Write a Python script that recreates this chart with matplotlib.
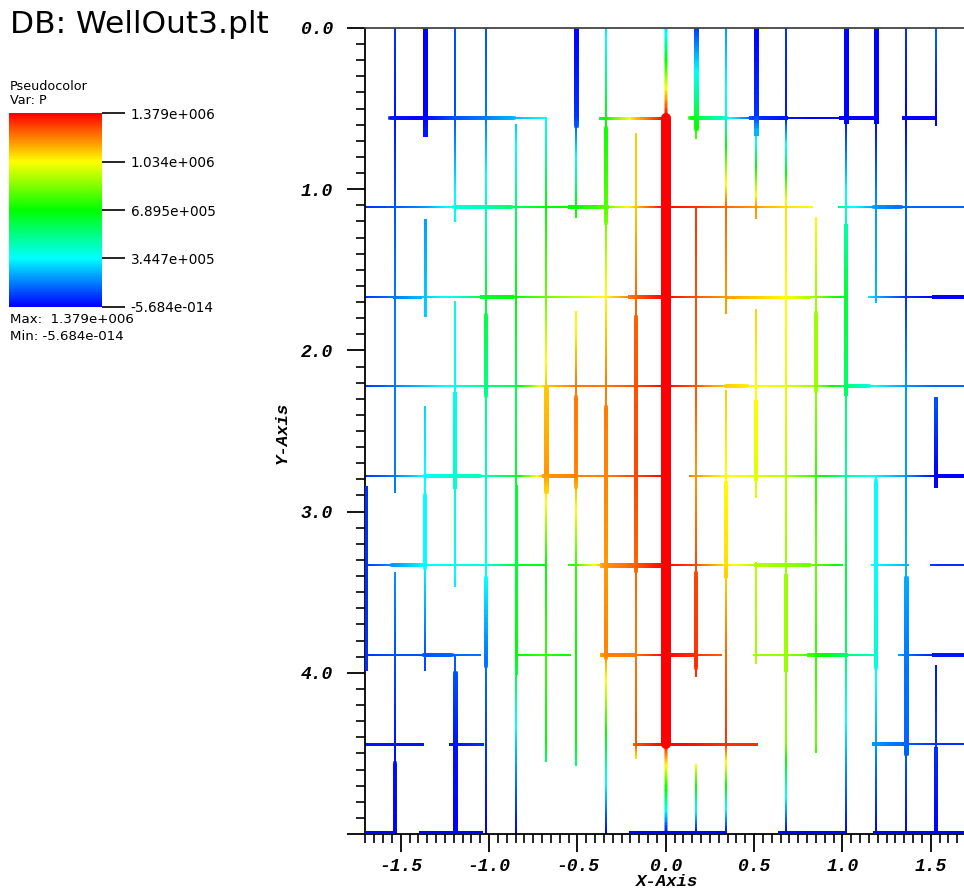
import numpy as np
import matplotlib
matplotlib.use('Agg')
import matplotlib.pyplot as plt
from matplotlib.collections import LineCollection
from matplotlib.colors import LinearSegmentedColormap, Normalize
from matplotlib.cm import ScalarMappable
from matplotlib.ticker import FixedLocator, MultipleLocator

P_MAX = 1.379e6
P_MIN = -5.684e-14

# fracture grid: 21 columns in x, 10 rows in y
X_NODES = np.linspace(-1.7, 1.7, 21)
Y_NODES = np.linspace(0.0, 5.0, 10)

# pressure at the grid nodes, in percent of P_MAX (rows = Y_NODES, cols = X_NODES)
P_PCT = [
    [0, 5, 0, 8, 8, 0, 0, 0, 22, 0, 20, 5, 15, 0, 5, 0, 0, 0, 5, 10, 10],
    [2, 2, 0, 8, 12, 18, 25, 5, 50, 80, 100, 45, 30, 5, 2, 0, 0, 0, 0, 0, 0],
    [5, 8, 15, 28, 32, 40, 50, 50, 58, 80, 100, 95, 90, 85, 78, 75, 30, 15, 10, 10, 10],
    [5, 12, 20, 28, 45, 50, 60, 68, 75, 90, 100, 92, 85, 80, 75, 65, 45, 18, 5, 0, 0],
    [5, 12, 20, 27, 38, 42, 80, 88, 88, 92, 100, 92, 80, 75, 72, 65, 40, 25, 15, 10, 10],
    [5, 12, 25, 30, 32, 45, 85, 87, 87, 93, 100, 85, 75, 72, 68, 55, 35, 25, 15, 0, 0],
    [5, 15, 25, 27, 28, 45, 50, 55, 85, 90, 100, 93, 78, 68, 65, 60, 45, 25, 18, 5, 5],
    [5, 8, 8, 10, 12, 50, 55, 50, 87, 88, 100, 95, 90, 65, 65, 55, 40, 30, 12, 2, 2],
    [2, 2, 2, 2, 5, 20, 50, 50, 45, 92, 100, 98, 95, 95, 62, 60, 20, 15, 10, 5, 5],
    [0, 0, 0, 0, 0, 0, 0, 0, 0, 0, 0, 0, 0, 0, 0, 0, 0, 0, 0, 0, 0],
]

# horizontal fractures: (row, x start, x end)
H_FRAC = [
    (1, -1.56, -0.68), (1, -1.56, -0.86), (1, -0.37, 0.00), (1, 0.14, 1.19),
    (1, 0.14, 0.34), (1, 0.48, 0.68), (1, 0.99, 1.19), (1, 1.35, 1.52),
    (2, -1.70, 0.83), (2, -1.20, -0.87), (2, -0.54, -0.33), (2, 0.98, 1.70),
    (2, 1.18, 1.33),
    (3, -1.70, 1.01), (3, -1.54, -1.39), (3, -1.04, -0.87), (3, -0.20, -0.04),
    (3, 0.34, 0.81), (3, 1.15, 1.70), (3, 1.52, 1.70),
    (4, -1.70, 1.70), (4, 0.34, 0.46), (4, 1.03, 1.15),
    (5, -1.70, 0.00), (5, -1.36, -1.05), (5, -0.69, -0.51), (5, 0.14, 1.70),
    (5, 1.53, 1.70),
    (6, -1.70, -0.68), (6, -1.55, -1.38), (6, -0.55, 1.00), (6, -0.36, -0.04),
    (6, 0.51, 0.81), (6, 1.17, 1.37), (6, 1.50, 1.70),
    (7, -1.70, -1.05), (7, -1.37, -1.21), (7, -0.85, -0.54), (7, -0.36, 0.31),
    (7, -0.36, -0.18), (7, 0.00, 0.15), (7, 0.50, 1.19), (7, 0.81, 1.02),
    (7, 1.32, 1.70), (7, 1.52, 1.70),
    (8, -1.70, -1.38), (8, -1.22, -1.04), (8, -0.18, 0.51), (8, 1.18, 1.70),
    (8, 1.18, 1.36),
    (9, -1.70, -1.55), (9, -1.38, -1.05), (9, -0.19, 0.32), (9, 0.65, 1.00),
    (9, 1.19, 1.70),
]
# drawn width of each horizontal fracture (pixels)
H_LW = [
    2, 3.5, 3, 2, 3.5, 4, 4, 4,
    2, 3.5, 4, 2, 3.5,
    2, 3, 4, 4, 3, 2, 4,
    2, 3.5, 3.5,
    2, 3.5, 4, 2, 4,
    2, 3.5, 2, 5, 4, 2, 2,
    2, 3.5, 2, 2, 4, 4, 2, 4, 2, 4,
    3, 3, 3, 2, 4,
    6, 6, 6, 7, 6,
]

# vertical fractures: (column, y start, y end)
V_FRAC = [
    (0, 2.86, 3.97),
    (1, 0.00, 2.88), (1, 3.38, 5.00), (1, 4.56, 5.00),
    (2, 0.00, 0.66), (2, 1.19, 1.78), (2, 2.35, 3.98), (2, 2.90, 3.35),
    (3, 0.00, 1.20), (3, 1.70, 3.46), (3, 2.27, 2.85), (3, 3.89, 5.00), (3, 4.00, 5.00),
    (4, 0.00, 5.00), (4, 1.78, 2.28), (4, 3.41, 3.96),
    (5, 0.60, 5.00), (5, 2.84, 4.00),
    (6, 0.56, 4.55), (6, 2.23, 2.87),
    (7, 0.00, 1.17), (7, 0.00, 0.60), (7, 1.76, 4.57), (7, 2.29, 2.85),
    (8, 0.00, 5.00), (8, 0.62, 1.21), (8, 2.35, 3.91),
    (9, 0.66, 4.53), (9, 1.79, 3.37),
    (10, 0.00, 0.56), (10, 0.56, 4.44), (10, 4.44, 5.00),
    (11, 0.00, 0.68), (11, 0.00, 0.62), (11, 1.11, 4.02), (11, 3.38, 3.97), (11, 4.57, 5.00),
    (12, 0.00, 1.77), (12, 2.25, 5.00), (12, 2.82, 3.40),
    (13, 0.00, 1.18), (13, 0.00, 0.65), (13, 1.75, 2.91), (13, 2.32, 2.80), (13, 3.32, 3.94),
    (14, 0.00, 5.00), (14, 3.40, 3.98),
    (15, 1.18, 4.49), (15, 1.77, 2.25),
    (16, 0.00, 5.00), (16, 0.00, 0.58), (16, 1.23, 2.27),
    (17, 0.00, 1.70), (17, 0.00, 0.58), (17, 2.78, 5.00), (17, 2.81, 3.97),
    (18, 0.00, 5.00), (18, 3.41, 4.50),
    (19, 0.00, 0.60), (19, 2.30, 2.84), (19, 3.96, 5.00), (19, 4.47, 5.00),
]
V_LW = [
    6,
    2, 2, 3.5,
    5, 3, 2, 3.5,
    2, 2, 4, 2, 4.5,
    2, 3.5, 3.5,
    2, 3,
    2, 4.5,
    2, 4.5, 2, 3.5,
    2, 3.5, 3.5,
    2, 3.5,
    2.5, 10, 2.5,
    2, 4.5, 2, 3.5, 2,
    2, 2, 4,
    2, 5, 2, 4, 2,
    2, 4,
    2, 3.5,
    2, 5, 4,
    2, 5, 2, 3.5,
    2, 4.5,
    2, 4, 2, 4,
]

P = np.array(P_PCT, dtype=float) / 100.0 * P_MAX

cmap = LinearSegmentedColormap.from_list(
    'visit_hot', ['#0000ff', '#00ffff', '#00ff00', '#ffff00', '#ff0000'])
norm = Normalize(vmin=P_MIN, vmax=P_MAX)

fig = plt.figure(figsize=(9.64, 8.93), dpi=100)
ax = fig.add_axes([365 / 964, 1 - 834 / 893, 599 / 964, 806 / 893])

PX = 0.72  # points per pixel


def add_fracture(nodes, node_vals, a, b, fixed, horizontal, lw_px):
    # split the fracture into short pieces so the colour follows P along it
    n = max(2, int(abs(b - a) / 0.01))
    t = np.linspace(a, b, n + 1)
    vals = np.interp(t, nodes, node_vals)
    mid = 0.5 * (vals[:-1] + vals[1:])
    if horizontal:
        pts = np.column_stack([t, np.full_like(t, fixed)])
    else:
        pts = np.column_stack([np.full_like(t, fixed), t])
    segs = np.stack([pts[:-1], pts[1:]], axis=1)
    cap = 'round' if lw_px >= 8 else 'projecting'
    lc = LineCollection(segs, cmap=cmap, norm=norm, linewidths=lw_px * PX,
                        capstyle=cap, zorder=2 + lw_px / 10)
    lc.set_array(mid)
    ax.add_collection(lc)


order = sorted(range(len(H_FRAC)), key=lambda i: H_LW[i])
for i in order:
    row, x0, x1 = H_FRAC[i]
    add_fracture(X_NODES, P[row, :], x0, x1, Y_NODES[row], True, H_LW[i])

order = sorted(range(len(V_FRAC)), key=lambda i: V_LW[i])
for i in order:
    col, y0, y1 = V_FRAC[i]
    add_fracture(Y_NODES, P[:, col], y0, y1, X_NODES[col], False, V_LW[i])

ax.set_xlim(-1.702, 1.688)
ax.set_ylim(5.0, 0.0)

mono = dict(family='Liberation Mono', weight='bold', style='italic')

ax.xaxis.set_major_locator(FixedLocator([-1.5, -1.0, -0.5, 0.0, 0.5, 1.0, 1.5]))
ax.set_xticklabels(['-1.5', '-1.0', '-0.5', '0.0', '0.5', '1.0', '1.5'],
                   fontsize=13, **mono)
ax.xaxis.set_minor_locator(MultipleLocator(0.05))
ax.yaxis.set_major_locator(FixedLocator([0, 1, 2, 3, 4, 5]))
ax.set_yticklabels(['0.0', '1.0', '2.0', '3.0', '4.0', ''], fontsize=13, **mono)
ax.yaxis.set_minor_locator(MultipleLocator(0.1))
ax.tick_params(axis='x', which='major', length=13, width=1.3, pad=4, direction='out')
ax.tick_params(axis='y', which='major', length=13, width=1.3, pad=10, direction='out')
ax.tick_params(which='minor', length=6.5, width=1.2, direction='out')

ax.spines['right'].set_visible(False)
ax.spines['top'].set_color('#444444')
for s in ['left', 'bottom', 'top']:
    ax.spines[s].set_linewidth(1.3)

fig.text(667 / 964, 1 - 882 / 893, 'X-Axis', ha='center', va='center',
         fontsize=12.5, **mono)
fig.text(282 / 964, 1 - 433 / 893, 'Y-Axis', ha='center', va='center',
         rotation=90, fontsize=12.5, **mono)

# legend
fig.text(10 / 964, 1 - 33 / 893, 'DB: WellOut3.plt', ha='left', va='baseline',
         fontsize=22.5, family='DejaVu Sans')
fig.text(10 / 964, 1 - 86 / 893, 'Pseudocolor', ha='left', va='center',
         fontsize=9.2, family='DejaVu Sans')
fig.text(10 / 964, 1 - 101 / 893, 'Var: P', ha='left', va='center',
         fontsize=9.2, family='DejaVu Sans')
fig.text(10 / 964, 1 - 320 / 893, 'Max:  1.379e+006', ha='left', va='center',
         fontsize=9.6, family='DejaVu Sans')
fig.text(10 / 964, 1 - 336 / 893, 'Min: -5.684e-014', ha='left', va='center',
         fontsize=9.6, family='DejaVu Sans')

cax = fig.add_axes([9.3 / 964, 1 - 306.7 / 893, 93 / 964, 193.4 / 893])
cb_ticks = [P_MAX, 1.034e6, 6.895e5, 3.447e5, P_MIN]
cb = fig.colorbar(ScalarMappable(norm=norm, cmap=cmap), cax=cax, ticks=cb_ticks)
cb.outline.set_visible(False)
cb.set_ticklabels(['1.379e+006', '1.034e+006', '6.895e+005', '3.447e+005',
                   '-5.684e-014'])
cax.tick_params(length=16.5, width=1.2, pad=4, labelsize=9.8)
for lab in cax.get_yticklabels():
    lab.set_family('DejaVu Sans')

fig.savefig('out.png', dpi=100)
